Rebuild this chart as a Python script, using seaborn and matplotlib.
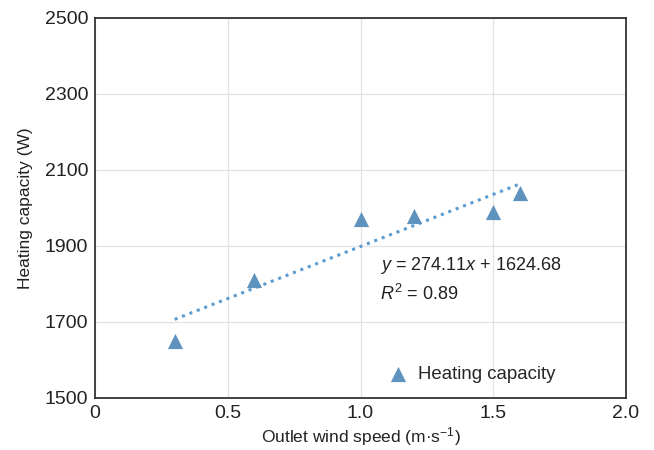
import numpy as np
import pandas as pd
import matplotlib
matplotlib.use("Agg")
import matplotlib.pyplot as plt
import seaborn as sns

wind_speed = [0.3, 0.6, 1.0, 1.2, 1.5, 1.6]
heating_capacity = [1650, 1810, 1972, 1978, 1990, 2040]
slope = 274.11
intercept = 1624.68
r2 = 0.89

x_ticks = [0, 0.5, 1.0, 1.5, 2.0]
x_tick_labels = ["0", "0.5", "1.0", "1.5", "2.0"]
y_ticks = [1500, 1700, 1900, 2100, 2300, 2500]

sns.set_theme(style="whitegrid")
plt.rcParams['font.family'] = ['Liberation Sans', 'DejaVu Sans']
plt.rcParams['mathtext.fontset'] = 'custom'
plt.rcParams['mathtext.rm'] = 'Liberation Sans'
plt.rcParams['mathtext.it'] = 'Liberation Sans:italic'

df = pd.DataFrame({"x": wind_speed, "y": heating_capacity})
color = "#5f93bf"

fig = plt.figure(figsize=(6.54, 4.5), dpi=100)
ax = fig.add_axes([95/654, 52/450, 531/654, 380/450])

xfit = np.array([min(wind_speed), max(wind_speed)])
ax.plot(xfit, slope * xfit + intercept, linestyle=(0, (1, 1.6)), color="#5a9bd0", lw=2.2, zorder=2)

sns.scatterplot(data=df, x="x", y="y", marker="^", s=120, color=color, edgecolor=color,
                linewidth=0, ax=ax, label="Heating capacity", zorder=3)

ax.set_xlim(0, 2.0)
ax.set_ylim(1500, 2500)
ax.set_xticks(x_ticks)
ax.set_xticklabels(x_tick_labels)
ax.set_yticks(y_ticks)
ax.tick_params(axis='both', labelsize=14, colors="#222222", length=0, pad=5)
ax.set_xlabel("Outlet wind speed (m·s$^{-1}$)", fontsize=12.5, color="#222222", labelpad=2)
ax.set_ylabel("Heating capacity (W)", fontsize=12.5, color="#222222", labelpad=8)

ax.grid(True, color="#e3e3e3", linewidth=0.9)
for sp in ax.spines.values():
    sp.set_visible(True)
    sp.set_color("#333333")
    sp.set_linewidth(1.3)

ax.text(1.075, 1850, f"$y$ = {slope}$x$ + {intercept}", fontsize=13, color="#222222", va="center")
ax.text(1.075, 1775, f"$R^2$ = {r2}", fontsize=13, color="#222222", va="center")

leg = ax.legend(loc="lower right", bbox_to_anchor=(0.895, 0.0), frameon=False, fontsize=13.4,
                handletextpad=0.05, borderaxespad=0.4)

fig.savefig("out.png", dpi=100)
